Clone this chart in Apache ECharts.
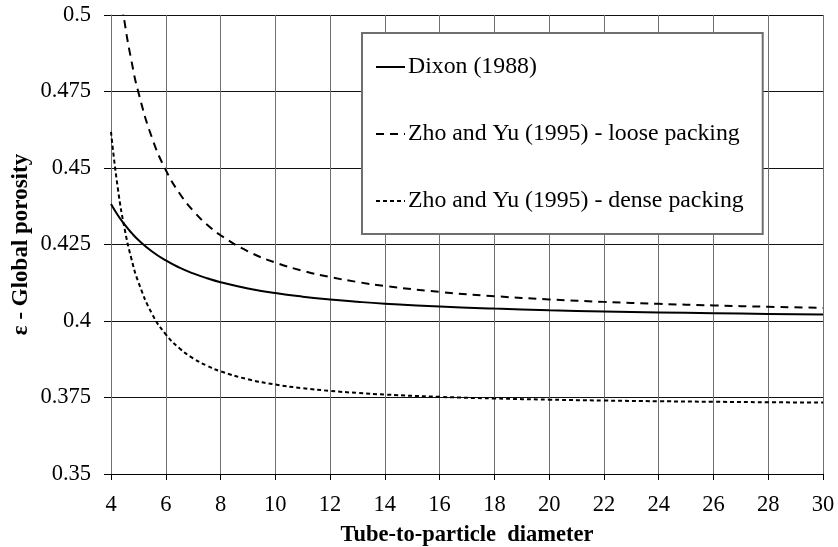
<!DOCTYPE html>
<html>
<head>
<meta charset="utf-8">
<script src="https://cdn.jsdelivr.net/npm/echarts@6/dist/echarts.min.js"></script>
<style>
  html, body { margin: 0; padding: 0; background: #fff; }
  #chart { width: 838px; height: 547px; }
</style>
</head>
<body>
<div id="chart"></div>
<script>
// Tube-to-particle diameter ratio (N)
const diameterRatio = [4, 4.25, 4.5, 4.75, 5, 5.5, 6, 6.5, 7, 7.5, 8, 9, 10, 11, 12, 13, 14, 16, 18, 20, 22, 24, 26, 28, 30];

// Global porosity for each correlation
const dixon = [0.43825, 0.43458, 0.43146, 0.42879, 0.42648, 0.42271, 0.41978, 0.41744, 0.41555, 0.41399, 0.41269, 0.41064, 0.40912, 0.40795, 0.40703, 0.40628, 0.40567, 0.40473, 0.40405, 0.40353, 0.40312, 0.40280, 0.40253, 0.40231, 0.40212];
const looseZhoYu = [0.53462, 0.51359, 0.49748, 0.48485, 0.47476, 0.45979, 0.44936, 0.44176, 0.43603, 0.43157, 0.42803, 0.42278, 0.41911, 0.41642, 0.41436, 0.41275, 0.41145, 0.40950, 0.40811, 0.40706, 0.40625, 0.40561, 0.40508, 0.40465, 0.40428];
const denseZhoYu = [0.46180, 0.44330, 0.43001, 0.42017, 0.41271, 0.40233, 0.39564, 0.39107, 0.38781, 0.38539, 0.38355, 0.38096, 0.37924, 0.37804, 0.37716, 0.37649, 0.37597, 0.37521, 0.37468, 0.37430, 0.37401, 0.37378, 0.37360, 0.37345, 0.37333];

const seriesNames = ['Dixon (1988)', 'Zho and Yu (1995) - loose packing', 'Zho and Yu (1995) - dense packing'];

const pairs = ys => diameterRatio.map((x, i) => [x, ys[i]]);
const serif = '"Liberation Serif", "Times New Roman", serif';

const chart = echarts.init(document.getElementById('chart'), null, { renderer: 'canvas' });
chart.setOption({
  backgroundColor: '#fff',
  animation: false,
  textStyle: { fontFamily: serif, color: '#000' },
  grid: { left: 111, right: 15, top: 15, bottom: 73, containLabel: false, outerBoundsMode: 'none' },
  xAxis: {
    type: 'value', min: 4, max: 30, interval: 2,
    name: 'Tube-to-particle  diameter',
    nameLocation: 'middle', nameGap: 50, nameMoveOverlap: false,
    nameTextStyle: { fontFamily: serif, fontSize: 22.5, fontWeight: 'bold', color: '#000' },
    axisLine: { show: true, lineStyle: { color: '#000', width: 1 } },
    axisTick: { show: true, length: 6, inside: false, lineStyle: { color: '#000' } },
    axisLabel: { fontFamily: serif, fontSize: 22.5, color: '#000', margin: 20 },
    splitLine: { show: true, lineStyle: { color: '#6f6f6f', width: 1 } }
  },
  yAxis: {
    type: 'value', min: 0.35, max: 0.5, interval: 0.025,
    name: 'ε - Global porosity',
    nameLocation: 'middle', nameGap: 78, nameMoveOverlap: false,
    nameTextStyle: { fontFamily: serif, fontSize: 23, fontWeight: 'bold', color: '#000' },
    axisLine: { show: true, lineStyle: { color: '#6f6f6f', width: 1 } },
    axisTick: { show: true, length: 7, inside: false, lineStyle: { color: '#000' } },
    axisLabel: { fontFamily: serif, fontSize: 22.5, color: '#000', margin: 20,
      formatter: v => String(+v.toFixed(3)) },
    splitLine: { show: true, lineStyle: { color: '#111', width: 1 } }
  },
  legend: {
    orient: 'vertical',
    left: 362, top: 33,
    backgroundColor: '#fff',
    borderColor: '#6f6f6f', borderWidth: 2,
    padding: [22, 19, 21, 13],
    itemGap: 43,
    itemWidth: 29, itemHeight: 14,
    itemStyle: { opacity: 0 },
    textStyle: { fontFamily: serif, fontSize: 23.8, color: '#000', lineHeight: 24, padding: [0, 0, 0, -2] },
    data: seriesNames
  },
  series: [
    {
      name: seriesNames[0], type: 'line', data: pairs(dixon), smooth: true,
      showSymbol: false, symbol: 'none', clip: true,
      lineStyle: { color: '#000', width: 2, type: 'solid' }, itemStyle: { color: '#000' }
    },
    {
      name: seriesNames[1], type: 'line', data: pairs(looseZhoYu), smooth: true,
      showSymbol: false, symbol: 'none', clip: true,
      lineStyle: { color: '#000', width: 2, type: [8, 6] }, itemStyle: { color: '#000' }
    },
    {
      name: seriesNames[2], type: 'line', data: pairs(denseZhoYu), smooth: true,
      showSymbol: false, symbol: 'none', clip: true,
      lineStyle: { color: '#000', width: 2, type: [4, 3] }, itemStyle: { color: '#000' }
    }
  ]
});
</script>
</body>
</html>
